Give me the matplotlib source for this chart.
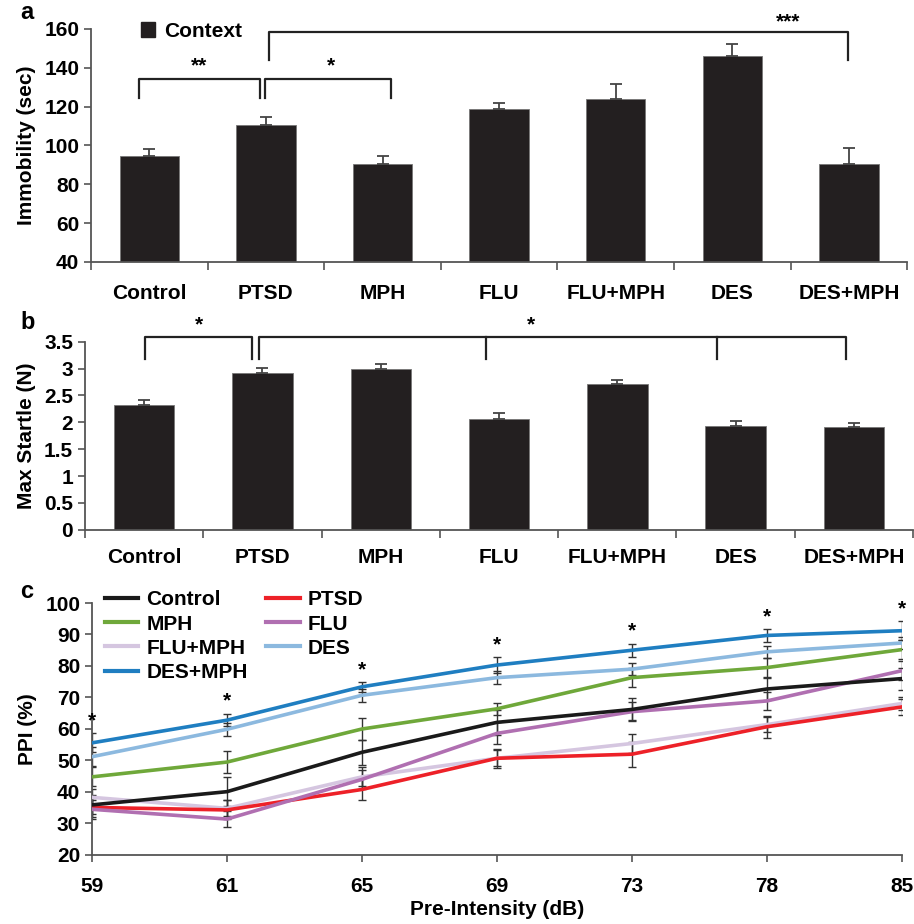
import numpy as np
import matplotlib
matplotlib.use("Agg")
import matplotlib.pyplot as plt
from matplotlib.patches import Patch
from matplotlib.lines import Line2D

plt.rcParams['font.family'] = ['Liberation Sans', 'DejaVu Sans']
plt.rcParams['font.weight'] = 'bold'

####################
## Data
####################
groups = ["Control", "PTSD", "MPH", "FLU", "FLU+MPH", "DES", "DES+MPH"]

# panel a: immobility to context (sec)
immob = [94.8, 110.7, 90.6, 118.8, 124.0, 145.8, 90.6]
immob_err = [3.6, 4.0, 4.0, 2.9, 7.8, 6.3, 7.9]

# panel b: max startle (N)
startle = [2.33, 2.91, 2.99, 2.07, 2.71, 1.93, 1.91]
startle_err = [0.08, 0.10, 0.09, 0.11, 0.08, 0.09, 0.07]

# panel c: PPI (%) per pre-pulse intensity
intensity = ["59", "61", "65", "69", "73", "78", "85"]
ppi = {
    "Control": [35.9, 40.1, 52.6, 62.1, 66.2, 72.7, 76.0],
    "PTSD":    [35.1, 34.3, 40.8, 50.7, 52.0, 60.7, 67.0],
    "MPH":     [44.8, 49.5, 60.0, 66.4, 76.3, 79.5, 85.2],
    "FLU":     [34.5, 31.4, 44.0, 58.6, 65.5, 68.9, 78.5],
    "FLU+MPH": [38.3, 34.8, 44.8, 50.7, 55.4, 61.4, 68.1],
    "DES":     [51.2, 59.9, 70.7, 76.3, 79.0, 84.5, 87.3],
    "DES+MPH": [55.6, 62.8, 73.4, 80.3, 85.0, 89.7, 91.2],
}
ppi_err = {
    "Control": [3.0, 4.5, 4.0, 4.0, 3.5, 3.5, 3.5],
    "PTSD":    [3.0, 3.0, 3.5, 3.0, 4.0, 3.5, 2.5],
    "MPH":     [3.0, 3.6, 3.6, 2.0, 3.0, 3.0, 3.0],
    "FLU":     [3.0, 2.5, 3.0, 3.5, 3.0, 3.0, 3.0],
    "FLU+MPH": [2.5, 2.5, 3.0, 2.5, 3.0, 2.5, 2.0],
    "DES":     [3.0, 2.0, 2.0, 2.0, 2.0, 2.0, 2.0],
    "DES+MPH": [3.0, 2.0, 1.5, 2.5, 2.0, 2.0, 3.0],
}
colors = {
    "Control": "#1a1a1a",
    "PTSD": "#ed2128",
    "MPH": "#6fa83a",
    "FLU": "#b06fb1",
    "FLU+MPH": "#d5c6e0",
    "DES": "#8cb9df",
    "DES+MPH": "#1f7ec1",
}
draw_order = ["FLU+MPH", "PTSD", "FLU", "Control", "MPH", "DES", "DES+MPH"]
legend_order = ["Control", "MPH", "FLU+MPH", "DES+MPH", "PTSD", "FLU", "DES"]

axcol = "#555555"
barcol = "#231f20"
fs = 15


def style_bar_axis(ax):
    for s in ["top", "right"]:
        ax.spines[s].set_visible(False)
    for s in ["left", "bottom"]:
        ax.spines[s].set_color(axcol)
        ax.spines[s].set_linewidth(1.3)
    x = np.arange(len(groups))
    ax.set_xlim(-0.5, len(groups) - 0.5)
    ax.set_xticks(x)
    ax.set_xticklabels(groups, fontsize=fs, fontweight="bold")
    ax.set_xticks(np.arange(len(groups) + 1) - 0.5, minor=True)
    ax.tick_params(axis="x", which="major", length=0, pad=16)
    ax.tick_params(axis="x", which="minor", length=6, color=axcol, width=1.2)
    ax.tick_params(axis="y", length=5, color=axcol, width=1.2, labelsize=fs)


def bracket(ax, x0, x1, ytop, yleg, lw=1.6):
    ax.plot([x0, x0, x1, x1], [yleg, ytop, ytop, yleg], color="#222222",
            lw=lw, clip_on=False, solid_joinstyle="round")


fig = plt.figure(figsize=(9.14, 9.24), dpi=100)

####################
## panel a
####################
axa = fig.add_axes([0.0996, 0.7165, 0.893, 0.2522])
x = np.arange(len(groups))
axa.bar(x, immob, width=0.51, color=barcol, edgecolor="#777777", linewidth=0.6, zorder=2)
axa.errorbar(x, immob, yerr=[np.zeros(len(x)), immob_err], fmt="none",
             ecolor="#444444", elinewidth=1.3, capsize=4, capthick=1.3, zorder=3)
axa.set_ylim(40, 160)
axa.set_yticks(np.arange(40, 161, 20))
style_bar_axis(axa)
axa.set_ylabel("Immobility (sec)", fontsize=fs, fontweight="bold", labelpad=6)
for lab in axa.get_yticklabels():
    lab.set_fontweight("bold")
bracket(axa, -0.09, 0.95, 134.4, 124.5)
bracket(axa, 0.99, 2.07, 134.4, 124.5)
bracket(axa, 1.03, 5.99, 158.3, 144.0)
axa.text(0.43, 136, "**", ha="center", va="bottom", fontsize=fs, fontweight="bold")
axa.text(1.56, 136, "*", ha="center", va="bottom", fontsize=fs, fontweight="bold")
axa.text(5.48, 158.6, "***", ha="center", va="bottom", fontsize=fs, fontweight="bold")
axa.legend([Patch(facecolor=barcol, edgecolor=barcol)], ["Context"],
           loc="upper left", bbox_to_anchor=(0.038, 1.11), frameon=False,
           handlelength=0.7, handleheight=0.7, handletextpad=0.4,
           prop={"size": fs, "weight": "bold"})
fig.text(0.022, 0.987, "a", fontsize=17, fontweight="bold", va="center")

####################
## panel b
####################
axb = fig.add_axes([0.093, 0.4267, 0.906, 0.2035])
axb.bar(x, startle, width=0.51, color=barcol, edgecolor="#777777", linewidth=0.6, zorder=2)
axb.errorbar(x, startle, yerr=[np.zeros(len(x)), startle_err], fmt="none",
             ecolor="#444444", elinewidth=1.3, capsize=4, capthick=1.3, zorder=3)
axb.set_ylim(0, 3.5)
axb.set_yticks(np.arange(0, 3.51, 0.5))
axb.set_yticklabels(["0", "0.5", "1", "1.5", "2", "2.5", "3", "3.5"])
style_bar_axis(axb)
axb.tick_params(axis="x", which="major", pad=13)
axb.set_ylabel("Max Startle (N)", fontsize=fs, fontweight="bold", labelpad=6)
for lab in axb.get_yticklabels():
    lab.set_fontweight("bold")
bracket(axb, 0.01, 0.91, 3.59, 3.18)
bracket(axb, 0.97, 5.93, 3.59, 3.18)
axb.plot([2.89, 2.89], [3.59, 3.18], color="#222222", lw=1.6, clip_on=False)
axb.plot([4.84, 4.84], [3.59, 3.18], color="#222222", lw=1.6, clip_on=False)
axb.text(0.46, 3.64, "*", ha="center", va="bottom", fontsize=fs, fontweight="bold")
axb.text(3.27, 3.64, "*", ha="center", va="bottom", fontsize=fs, fontweight="bold")
fig.text(0.022, 0.651, "b", fontsize=17, fontweight="bold", va="center")

####################
## panel c
####################
axc = fig.add_axes([0.1007, 0.0747, 0.886, 0.2727])
xc = np.arange(len(intensity))
for g in draw_order:
    axc.errorbar(xc, ppi[g], yerr=ppi_err[g], fmt="none", ecolor="#333333",
                 elinewidth=1.0, capsize=3, capthick=1.0, zorder=2)
for g in draw_order:
    axc.plot(xc, ppi[g], color=colors[g], lw=2.6, zorder=3)
star_y = np.array(ppi["DES+MPH"]) + np.array(ppi_err["DES+MPH"]) + 1.0
for xi, yi in zip(xc, star_y):
    axc.text(xi, yi, "*", ha="center", va="bottom", fontsize=fs, fontweight="bold",
             clip_on=False, zorder=4)
axc.set_xlim(0, len(intensity) - 1)
axc.set_ylim(20, 100)
axc.set_yticks(np.arange(20, 101, 10))
axc.set_xticks(xc)
axc.set_xticklabels(intensity, fontsize=fs, fontweight="bold")
for s in ["top", "right"]:
    axc.spines[s].set_visible(False)
for s in ["left", "bottom"]:
    axc.spines[s].set_color(axcol)
    axc.spines[s].set_linewidth(1.3)
axc.tick_params(axis="both", length=5, color=axcol, width=1.2, labelsize=fs)
axc.tick_params(axis="x", pad=11)
for lab in axc.get_yticklabels():
    lab.set_fontweight("bold")
axc.set_ylabel("PPI (%)", fontsize=fs, fontweight="bold", labelpad=6)
axc.set_xlabel("Pre-Intensity (dB)", fontsize=fs, fontweight="bold", labelpad=3)
handles = [Line2D([0], [0], color=colors[g], lw=3) for g in legend_order]
axc.legend(handles, legend_order, ncol=2, loc="upper left",
           bbox_to_anchor=(0.0, 1.1), frameon=False, handlelength=1.6,
           handletextpad=0.4, labelspacing=0.25, columnspacing=0.9,
           borderaxespad=0.2, prop={"size": fs, "weight": "bold"})
fig.text(0.022, 0.36, "c", fontsize=17, fontweight="bold", va="center")

fig.savefig("out.png", dpi=100)
